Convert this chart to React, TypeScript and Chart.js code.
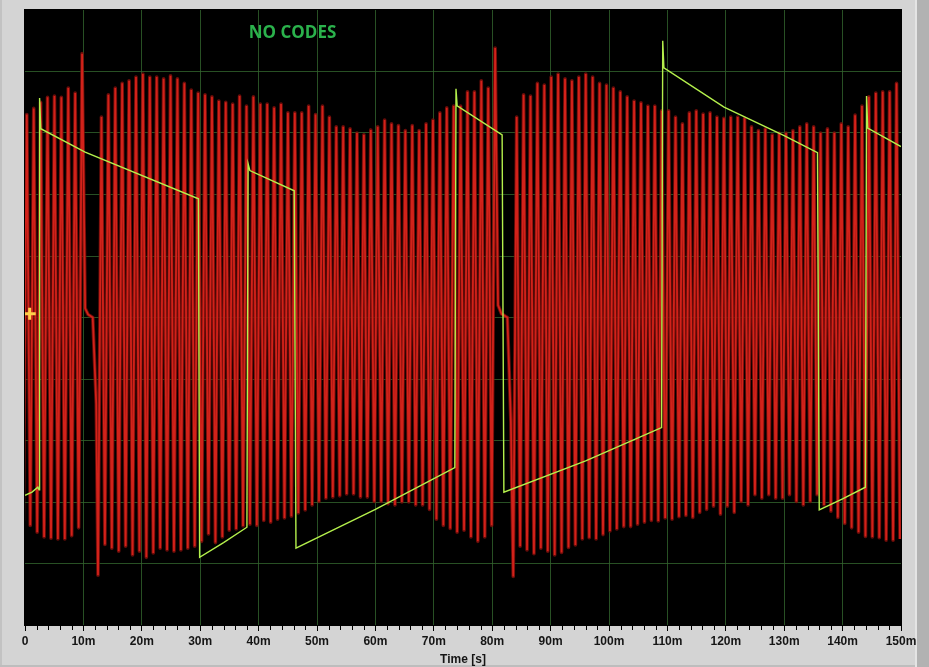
import React, { useEffect, useRef } from "react";
import { Chart, registerables } from "chart.js";

Chart.register(...registerables);

// ---------- DATA ----------
// x axis: time in seconds, 0 .. 150 ms; y axis: arbitrary units, -5 .. 5
const X_MIN = 0;
const X_MAX = 0.15;
const X_MAJOR_STEP = 0.01;
const X_MINOR_STEP = 0.002;
const Y_MIN = -5;
const Y_MAX = 5;

// red oscillation: per-cycle trough / peak values, regular cycle period (ms)
const RED_PERIOD_MS = 1.1826;

const redStartA = -0.28;
const redTroughsA = [-3.3, -3.38, -3.49, -3.57, -3.59, -3.6, -3.6, -3.55, -3.42];
const redPeaksA = [3.3, 3.4, 3.5, 3.58, 3.6, 3.58, 3.73, 3.65, 4.29];
const redGapATimes = [10.3, 10.8, 11.6, 12.2];
const redGapAValues = [0.15, 0.05, 0.0, -1.4];

const redStartB = 12.5;
const redTroughsB = [
  -4.19, -3.69, -3.75, -3.8, -3.72, -3.86, -3.8, -3.9, -3.83, -3.75,
  -3.78, -3.8, -3.78, -3.75, -3.72, -3.64, -3.52, -3.66, -3.57, -3.46,
  -3.44, -3.39, -3.36, -3.38, -3.3, -3.33, -3.28, -3.26, -3.23, -3.18,
  -3.13, -3.05, -2.99, -2.94, -2.92, -2.9, -2.87, -2.87, -2.92, -2.92,
  -2.99, -2.99, -3.03, -3.05, -3.0, -3.0, -3.05, -3.05, -3.12, -3.28,
  -3.38, -3.43, -3.49, -3.46, -3.57, -3.64, -3.57, -3.38,
];
const redPeaksB = [
  3.26, 3.62, 3.73, 3.81, 3.85, 3.91, 3.96, 3.91, 3.91, 3.88,
  3.93, 3.88, 3.81, 3.7, 3.65, 3.62, 3.59, 3.52, 3.5, 3.47,
  3.6, 3.44, 3.59, 3.47, 3.47, 3.41, 3.47, 3.33, 3.33, 3.33,
  3.44, 3.3, 3.44, 3.26, 3.1, 3.1, 3.07, 3.0, 2.97, 3.05,
  3.1, 3.21, 3.15, 3.12, 3.04, 3.12, 3.04, 3.15, 3.21, 3.33,
  3.41, 3.44, 3.44, 3.67, 3.67, 3.85, 3.73, 4.38,
];
const redGapBTimes = [81.0, 81.6, 82.6, 83.2];
const redGapBValues = [0.2, 0.06, 0.0, -1.7];

const redStartC = 83.6;
const redTroughsC = [
  -4.21, -3.72, -3.78, -3.84, -3.75, -3.8, -3.86, -3.82, -3.74, -3.7,
  -3.6, -3.58, -3.6, -3.53, -3.47, -3.44, -3.4, -3.4, -3.36, -3.33,
  -3.3, -3.31, -3.26, -3.28, -3.24, -3.22, -3.25, -3.17, -3.12, -3.07,
  -3.2, -3.07, -3.17, -2.99, -3.05, -2.88, -2.94, -2.88, -2.94, -2.94,
  -2.88, -2.99, -3.05, -2.99, -2.88, -3.05, -3.15, -3.25, -3.35, -3.42,
  -3.49, -3.56, -3.57, -3.58, -3.62, -3.62, -3.6,
];
const redPeaksC = [
  3.26, 3.62, 3.6, 3.81, 3.78, 3.91, 3.96, 3.88, 3.85, 3.91,
  3.96, 3.91, 3.81, 3.78, 3.73, 3.67, 3.59, 3.52, 3.49, 3.44,
  3.44, 3.36, 3.36, 3.26, 3.15, 3.33, 3.36, 3.31, 3.33, 3.26,
  3.24, 3.26, 3.26, 3.24, 3.1, 3.04, 3.07, 2.97, 3.0, 3.0,
  3.04, 3.1, 3.15, 3.1, 3.0, 3.07, 3.0, 3.15, 3.1, 3.29,
  3.44, 3.59, 3.65, 3.67, 3.67, 3.81,
];

// green trace: (time ms, value)
const greenTimes = [
  0, 1.2, 2.2, 2.4, 2.5, 2.7, 10.3, 29.7, 29.9, 34.0, 38.0, 38.2, 38.5, 46.1,
  46.4, 60.0, 73.6, 73.8, 74.0, 81.7, 82.0, 96.0, 109.0, 109.2, 109.4, 119.7,
  129.9, 135.7, 136.0, 140.0, 143.9, 144.1, 144.3, 150.0,
];
const greenValues = [
  -2.89, -2.84, -2.76, -2.8, 3.57, 3.07, 2.69, 1.93, -3.9, -3.66, -3.41, 2.5, 2.39, 2.06,
  -3.75, -3.12, -2.44, 3.72, 3.44, 2.97, -2.84, -2.33, -1.79, 4.5, 4.06, 3.42,
  2.96, 2.68, -3.13, -2.95, -2.76, 3.6, 3.08, 2.78,
];

// cursor marker (time s, value)
const cursorPoint = { x: 0.0008, y: 0.06 };

const annotationText = "NO CODES";
const annotationX = 0.0458;
const annotationY = 4.63;

// ---------- BUILD ----------
type Pt = { x: number; y: number };

function pushSegment(out: Pt[], startMs: number, troughs: number[], peaks: number[]) {
  const n = Math.max(troughs.length, peaks.length);
  for (let k = 0; k < n; k++) {
    if (k < troughs.length) out.push({ x: (startMs + k * RED_PERIOD_MS) / 1000, y: troughs[k] });
    if (k < peaks.length) out.push({ x: (startMs + (k + 0.5) * RED_PERIOD_MS) / 1000, y: peaks[k] });
  }
}
function pushPairs(out: Pt[], times: number[], values: number[]) {
  times.forEach((t, i) => out.push({ x: t / 1000, y: values[i] }));
}

const redData: Pt[] = [];
pushSegment(redData, redStartA, redTroughsA, redPeaksA);
pushPairs(redData, redGapATimes, redGapAValues);
pushSegment(redData, redStartB, redTroughsB, redPeaksB);
pushPairs(redData, redGapBTimes, redGapBValues);
pushSegment(redData, redStartC, redTroughsC, redPeaksC);

const greenData: Pt[] = [];
pushPairs(greenData, greenTimes, greenValues);

const GRID_GREEN = "rgba(50,100,45,0.8)";

const bgPlugin = {
  id: "bgPlugin",
  beforeDraw(chart: any) {
    const { ctx, width, height, chartArea: a } = chart;
    ctx.save();
    ctx.fillStyle = "#d4d4d4";
    ctx.fillRect(0, 0, width, height);
    ctx.fillStyle = "#c2c2c2";
    ctx.fillRect(0, 0, 2, height);
    ctx.fillStyle = "#bdbdbd";
    ctx.fillRect(0, height - 2, width, 2);
    ctx.fillStyle = "#e4e4e4";
    ctx.fillRect(width - 14, 0, 2, height);
    ctx.fillStyle = "#b2b2b2";
    ctx.fillRect(width - 12, 0, 12, height);
    ctx.fillStyle = "#000";
    ctx.fillRect(a.left - 1, a.top - 1, a.right - a.left + 2, a.bottom - a.top + 2);
    ctx.restore();
  },
  afterDraw(chart: any) {
    const { ctx, chartArea: a } = chart;
    const xs = chart.scales.x;
    ctx.save();
    ctx.strokeStyle = "#000";
    ctx.lineWidth = 1;
    const n = Math.round((X_MAX - X_MIN) / X_MINOR_STEP);
    const per = Math.round(X_MAJOR_STEP / X_MINOR_STEP);
    for (let i = 0; i <= n; i++) {
      if (i % per === 0) continue;
      const px = Math.round(xs.getPixelForValue(X_MIN + i * X_MINOR_STEP)) + 0.5;
      ctx.beginPath();
      ctx.moveTo(px, a.bottom + 1);
      ctx.lineTo(px, a.bottom + 5);
      ctx.stroke();
    }
    // annotation text on top of everything
    const tx = xs.getPixelForValue(annotationX);
    const ty = chart.scales.y.getPixelForValue(annotationY);
    ctx.fillStyle = "#2bb24c";
    ctx.font = 'bold 17px "Open Sans", "Noto Sans", sans-serif';
    ctx.textAlign = "center";
    ctx.textBaseline = "middle";
    ctx.fillText(annotationText, tx, ty);
    ctx.restore();
  },
};

const isEdge = (v: number, lo: number, hi: number) => v <= lo + 1e-9 || v >= hi - 1e-9;

export default function App() {
  const ref = useRef<HTMLCanvasElement>(null);
  useEffect(() => {
    document.body.style.margin = "0";
    const chart = new Chart(ref.current as HTMLCanvasElement, {
      type: "line",
      data: {
        datasets: [
          {
            label: "cursor",
            data: [cursorPoint],
            showLine: false,
            pointStyle: "cross",
            pointRadius: 6,
            pointBorderColor: "#ffcf4a",
            pointBackgroundColor: "#ffcf4a",
            pointBorderWidth: 3,
          } as any,
          {
            label: "green",
            data: greenData,
            borderColor: "#b4f04c",
            borderWidth: 1.4,
            pointRadius: 0,
            tension: 0,
          },
          {
            label: "red",
            data: redData,
            borderColor: "#d2221a",
            borderWidth: 1.8,
            pointRadius: 0,
            tension: 0,
          },
          {
            label: "red glow",
            data: redData,
            borderColor: "rgba(125,14,10,0.85)",
            borderWidth: 3.6,
            borderJoinStyle: "round",
            pointRadius: 0,
            tension: 0,
          },
        ],
      },
      options: {
        animation: false,
        responsive: false,
        events: [],
        layout: { padding: { left: 25, right: 28, top: 10, bottom: 0 } },
        plugins: { legend: { display: false }, tooltip: { enabled: false } },
        scales: {
          x: {
            type: "linear",
            min: X_MIN,
            max: X_MAX,
            z: 1,
            border: { display: false },
            grid: {
              color: (c: any) => (isEdge(c.tick.value, X_MIN, X_MAX) ? "rgba(0,0,0,0)" : GRID_GREEN),
              tickColor: "#000",
              tickLength: 6,
              lineWidth: 1,
            },
            ticks: {
              stepSize: X_MAJOR_STEP,
              autoSkip: false,
              maxRotation: 0,
              padding: 3,
              color: "#151515",
              font: { family: '"Liberation Sans", Arial, sans-serif', size: 12, weight: "bold" },
              callback: (v: any) => {
                const ms = Math.round(Number(v) * 1000);
                return ms === 0 ? "0" : ms + "m";
              },
            },
            title: {
              display: true,
              text: "Time [s]",
              color: "#151515",
              font: { family: '"Liberation Sans", Arial, sans-serif', size: 12, weight: "bold" },
              padding: { top: 0, bottom: 0 },
            },
            afterFit: (s: any) => {
              s.height = 42;
            },
          },
          y: {
            type: "linear",
            min: Y_MIN,
            max: Y_MAX,
            z: 1,
            border: { display: false },
            ticks: { display: false, stepSize: 1 },
            grid: {
              color: (c: any) => (isEdge(c.tick.value, Y_MIN, Y_MAX) ? "rgba(0,0,0,0)" : GRID_GREEN),
              drawTicks: false,
              lineWidth: 1,
            },
          },
        },
      } as any,
      plugins: [bgPlugin],
    });
    return () => chart.destroy();
  }, []);
  return (
    <div style={{ width: 929, height: 667 }}>
      <canvas ref={ref} width={929} height={667} style={{ display: "block" }} />
    </div>
  );
}
